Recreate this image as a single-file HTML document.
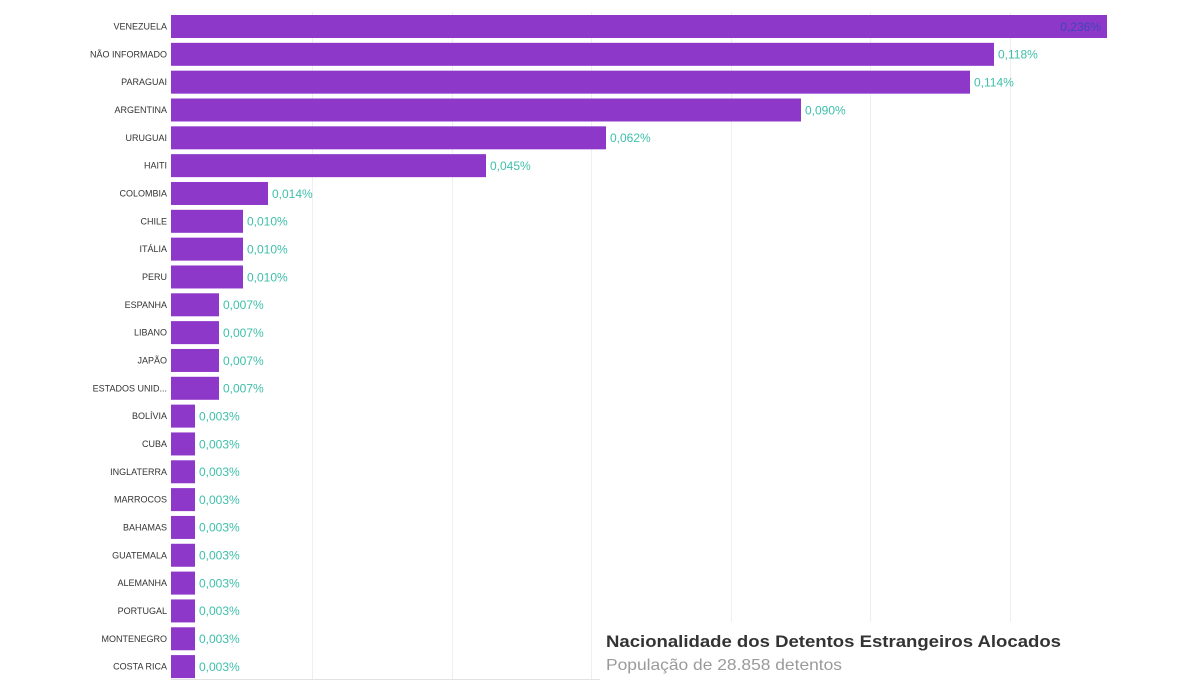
<!DOCTYPE html>
<html><head><meta charset="utf-8"><style>
html,body{margin:0;padding:0;background:#fff;}
svg{display:block;}
</style></head><body>
<svg width="1200" height="689" viewBox="0 0 1200 689" xmlns="http://www.w3.org/2000/svg" font-family="Liberation Sans, sans-serif">
<rect width="1200" height="689" fill="#fff"/>
<g stroke="#efefef" stroke-width="1">
<line x1="312.5" y1="12" x2="312.5" y2="679"/>
<line x1="452.5" y1="12" x2="452.5" y2="679"/>
<line x1="591.5" y1="12" x2="591.5" y2="679"/>
<line x1="731.5" y1="12" x2="731.5" y2="622"/>
<line x1="870.5" y1="12" x2="870.5" y2="622"/>
<line x1="1010.5" y1="12" x2="1010.5" y2="622"/>
</g>
<line x1="171" y1="679.5" x2="600" y2="679.5" stroke="#e2e2e2" stroke-width="1"/>
<g fill="#8e38c9">
<rect x="171" y="15" width="936" height="23"/>
<rect x="171" y="42.83" width="823" height="23"/>
<rect x="171" y="70.66" width="799" height="23"/>
<rect x="171" y="98.49" width="630" height="23"/>
<rect x="171" y="126.32" width="435" height="23"/>
<rect x="171" y="154.15" width="315" height="23"/>
<rect x="171" y="181.98" width="97" height="23"/>
<rect x="171" y="209.81" width="72" height="23"/>
<rect x="171" y="237.64" width="72" height="23"/>
<rect x="171" y="265.47" width="72" height="23"/>
<rect x="171" y="293.3" width="48" height="23"/>
<rect x="171" y="321.13" width="48" height="23"/>
<rect x="171" y="348.96" width="48" height="23"/>
<rect x="171" y="376.79" width="48" height="23"/>
<rect x="171" y="404.62" width="24" height="23"/>
<rect x="171" y="432.45" width="24" height="23"/>
<rect x="171" y="460.28" width="24" height="23"/>
<rect x="171" y="488.11" width="24" height="23"/>
<rect x="171" y="515.94" width="24" height="23"/>
<rect x="171" y="543.77" width="24" height="23"/>
<rect x="171" y="571.6" width="24" height="23"/>
<rect x="171" y="599.43" width="24" height="23"/>
<rect x="171" y="627.26" width="24" height="23"/>
<rect x="171" y="655.09" width="24" height="23"/>
</g>
<g fill="#333" font-size="9" text-anchor="end">
<text x="167" y="29.5">VENEZUELA</text>
<text x="167" y="57.3">NÃO INFORMADO</text>
<text x="167" y="85.2">PARAGUAI</text>
<text x="167" y="113">ARGENTINA</text>
<text x="167" y="140.8">URUGUAI</text>
<text x="167" y="168.7">HAITI</text>
<text x="167" y="196.5">COLOMBIA</text>
<text x="167" y="224.3">CHILE</text>
<text x="167" y="252.1">ITÁLIA</text>
<text x="167" y="280">PERU</text>
<text x="167" y="307.8">ESPANHA</text>
<text x="167" y="335.6">LIBANO</text>
<text x="167" y="363.5">JAPÃO</text>
<text x="167" y="391.3">ESTADOS UNID...</text>
<text x="167" y="419.1">BOLÍVIA</text>
<text x="167" y="447">CUBA</text>
<text x="167" y="474.8">INGLATERRA</text>
<text x="167" y="502.6">MARROCOS</text>
<text x="167" y="530.4">BAHAMAS</text>
<text x="167" y="558.3">GUATEMALA</text>
<text x="167" y="586.1">ALEMANHA</text>
<text x="167" y="613.9">PORTUGAL</text>
<text x="167" y="641.8">MONTENEGRO</text>
<text x="167" y="669.6">COSTA RICA</text>
</g>
<text x="1101" y="30.8" font-size="12" fill="#3f46b5" text-anchor="end">0,236%</text>
<g fill="#3ebfa9" font-size="12">
<text x="998" y="58.6">0,118%</text>
<text x="974" y="86.5">0,114%</text>
<text x="805" y="114.3">0,090%</text>
<text x="610" y="142.1">0,062%</text>
<text x="490" y="170">0,045%</text>
<text x="272" y="197.8">0,014%</text>
<text x="247" y="225.6">0,010%</text>
<text x="247" y="253.4">0,010%</text>
<text x="247" y="281.3">0,010%</text>
<text x="223" y="309.1">0,007%</text>
<text x="223" y="336.9">0,007%</text>
<text x="223" y="364.8">0,007%</text>
<text x="223" y="392.6">0,007%</text>
<text x="199" y="420.4">0,003%</text>
<text x="199" y="448.3">0,003%</text>
<text x="199" y="476.1">0,003%</text>
<text x="199" y="503.9">0,003%</text>
<text x="199" y="531.7">0,003%</text>
<text x="199" y="559.6">0,003%</text>
<text x="199" y="587.4">0,003%</text>
<text x="199" y="615.2">0,003%</text>
<text x="199" y="643.1">0,003%</text>
<text x="199" y="670.9">0,003%</text>
</g>
<text x="606" y="647" font-size="17" font-weight="bold" fill="#333" textLength="455" lengthAdjust="spacingAndGlyphs">Nacionalidade dos Detentos Estrangeiros Alocados</text>
<text x="606" y="670" font-size="16" fill="#9a9a9a" textLength="236" lengthAdjust="spacingAndGlyphs">População de 28.858 detentos</text>
</svg>
</body></html>
